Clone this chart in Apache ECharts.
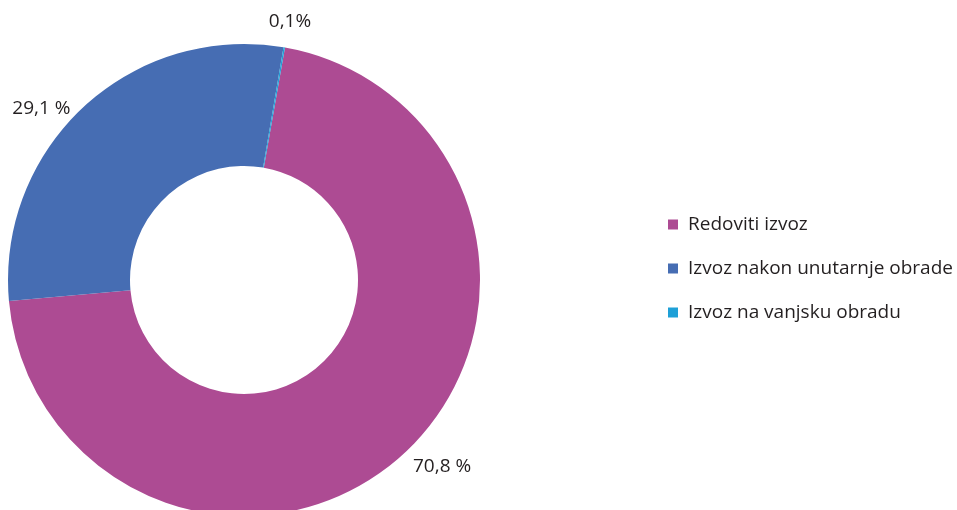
<!DOCTYPE html>
<html>
<head>
<meta charset="utf-8">
<script src="https://cdn.jsdelivr.net/npm/echarts@6/dist/echarts.min.js"></script>
<style>html,body{margin:0;padding:0;background:#fff}#c{width:957px;height:510px}</style>
</head>
<body>
<div id="c"></div>
<script>
var categories = ['Redoviti izvoz', 'Izvoz nakon unutarnje obrade', 'Izvoz na vanjsku obradu'];
var values = [70.8, 29.1, 0.1];
var labelTexts = ['70,8 %', '29,1 %', '0,1%'];
var colors = ['#AD4B93', '#466DB3', '#1EA0D7'];

var chart = echarts.init(document.getElementById('c'), null, {renderer: 'canvas'});
var FONT = '"Open Sans", "Noto Sans", sans-serif';
var labelShift = [[-4, 9], [0, 6], [-3, -4]];
var data = categories.map(function (n, i) {
  var d = {name: n, value: values[i], itemStyle: {color: colors[i]}};
  if (i === 2) {
    d.labelLine = {length: 22, length2: 0};
  }
  return d;
});
chart.setOption({
  animation: false,
  color: colors,
  legend: {
    orient: 'vertical',
    left: 663,
    top: 210,
    icon: 'rect',
    itemWidth: 10,
    itemHeight: 10,
    itemGap: 25,
    textStyle: {fontFamily: FONT, fontSize: 19, color: '#231f20', padding: [0, 0, 0, 5]},
    data: categories
  },
  series: [{
    type: 'pie',
    center: [244, 280],
    radius: [114, 236],
    startAngle: 80,
    clockwise: true,
    avoidLabelOverlap: false,
    data: data,
    label: {
      show: true,
      position: 'outside',
      fontFamily: FONT,
      fontSize: 19,
      color: '#231f20',
      formatter: function (p) { return labelTexts[p.dataIndex]; }
    },
    labelLine: {show: false, length: 5, length2: 5},
    labelLayout: function (p) {
      var s = labelShift[p.dataIndex];
      var o = {dx: s[0], dy: s[1]};
      if (p.dataIndex === 2) { o.align = 'center'; }
      return o;
    },
    emphasis: {disabled: true}
  }]
});
</script>
</body>
</html>
